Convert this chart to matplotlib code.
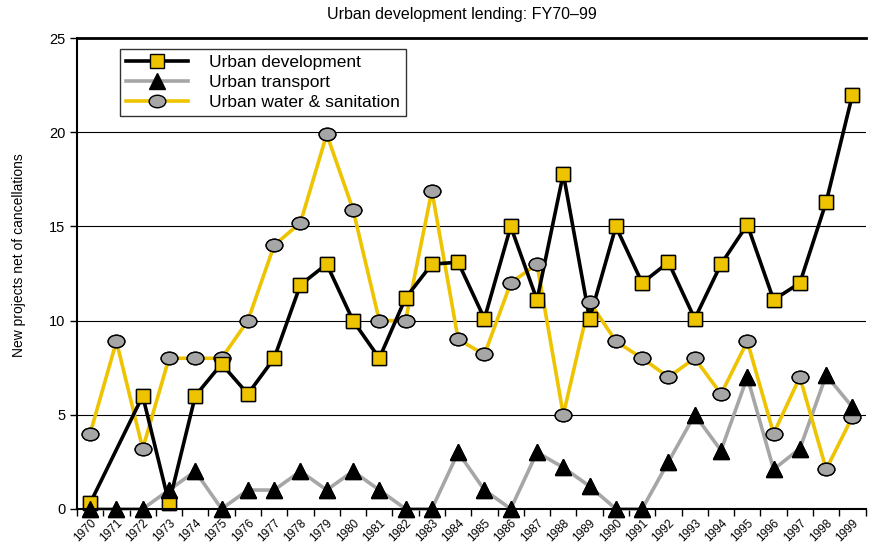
import numpy as np
import matplotlib
matplotlib.use('Agg')
from matplotlib import pyplot as plt
from matplotlib.path import Path

plt.rcParams['font.family'] = ['Liberation Sans', 'DejaVu Sans']

years = [str(y) for y in range(1970, 2000)]

# 1971 has no value for urban development
urban_dev = [0.3, np.nan, 6.0, 0.3, 6.0, 7.7, 6.1, 8.0, 11.9, 13.0,
             10.0, 8.0, 11.2, 13.0, 13.1, 10.1, 15.0, 11.1, 17.8, 10.1,
             15.0, 12.0, 13.1, 10.1, 13.0, 15.1, 11.1, 12.0, 16.3, 22.0]
urban_transport = [0, 0, 0, 1, 2, 0, 1, 1, 2, 1,
                   2, 1, 0, 0, 3, 1, 0, 3, 2.2, 1.2,
                   0, 0, 2.5, 5, 3.1, 7, 2.1, 3.2, 7.1, 5.4]
urban_water = [4.0, 8.9, 3.2, 8.0, 8.0, 8.0, 10.0, 14.0, 15.2, 19.9,
               15.9, 10.0, 10.0, 16.9, 9.0, 8.2, 12.0, 13.0, 5.0, 11.0,
               8.9, 8.0, 7.0, 8.0, 6.1, 8.9, 4.0, 7.0, 2.1, 4.9]

gold = '#EEC400'
grey = '#A6A6A6'

# slightly flattened circle for the water & sanitation markers
circ = Path.unit_circle()
ellipse = Path(circ.vertices * [1.0, 0.75], circ.codes)

x = np.arange(len(years))
fig = plt.figure(figsize=(8.69, 5.46), dpi=100)
ax = fig.add_axes([0.0886, 0.068, 0.9075, 0.862])

dev = np.array(urban_dev)
ok = ~np.isnan(dev)

series = [
    # x, y, line colour, marker, size, face, label, marker zorder
    (x[ok], dev[ok], 'black', 's', 9.5, gold, 'Urban development', 6),
    (x, urban_transport, grey, '^', 11, 'black', 'Urban transport', 7),
    (x, urban_water, gold, ellipse, 12, grey, 'Urban water & sanitation', 5),
]
line_z = [4, 2, 3]
for (xs, ys, lc, mk, ms, fc, lab, mz), lz in zip(series, line_z):
    ax.plot(xs, ys, color=lc, lw=2.6, marker=mk, ms=ms, mfc=fc, mec='black',
            mew=1.0, label=lab, zorder=lz, clip_on=False)
    # markers drawn again above all of the lines
    ax.plot(xs, ys, ls='none', marker=mk, ms=ms, mfc=fc, mec='black',
            mew=1.0, zorder=mz, clip_on=False)

ax.set_xlim(-0.5, len(years) - 0.5)
ax.set_ylim(0, 25)
ax.set_yticks([0, 5, 10, 15, 20, 25])
ax.yaxis.grid(True, color='black', lw=0.8)
ax.axhline(25, color='black', lw=2.0, clip_on=False)
ax.set_axisbelow(True)

ax.set_xticks(np.arange(-0.5, len(years), 1.0))
ax.set_xticklabels([])
ax.set_xticks(x, minor=True)
ax.set_xticklabels(years, minor=True, rotation=45, ha='right', va='top',
                   rotation_mode='anchor', fontsize=8.5)
ax.tick_params(axis='x', which='minor', length=0, pad=6)
ax.tick_params(axis='x', which='major', length=5, width=1, direction='out')
ax.tick_params(axis='y', length=5, width=1, direction='out', labelsize=10.5)

for s in ['top', 'right']:
    ax.spines[s].set_visible(False)
ax.spines['left'].set_linewidth(1.5)
ax.spines['bottom'].set_linewidth(1.5)
ax.spines['left'].set_zorder(8)
ax.spines['bottom'].set_zorder(8)

ax.set_ylabel('New projects net of cancellations', fontsize=10)
ax.yaxis.set_label_coords(-0.065, 0.54)
fig.text(462 / 869, 1 - 15 / 546, 'Urban development lending: FY70\u201399',
         fontsize=11.5, ha='center', va='center')

leg = ax.legend(loc='upper left', bbox_to_anchor=(0.054, 0.978), fontsize=12.5,
                handlelength=3.6, frameon=True, fancybox=False,
                borderpad=0.35, labelspacing=0.28, handletextpad=1.2,
                borderaxespad=0)
leg.get_frame().set_edgecolor('black')
leg.get_frame().set_linewidth(1.0)
leg.set_zorder(10)

plt.savefig('out.png')
plt.close()
